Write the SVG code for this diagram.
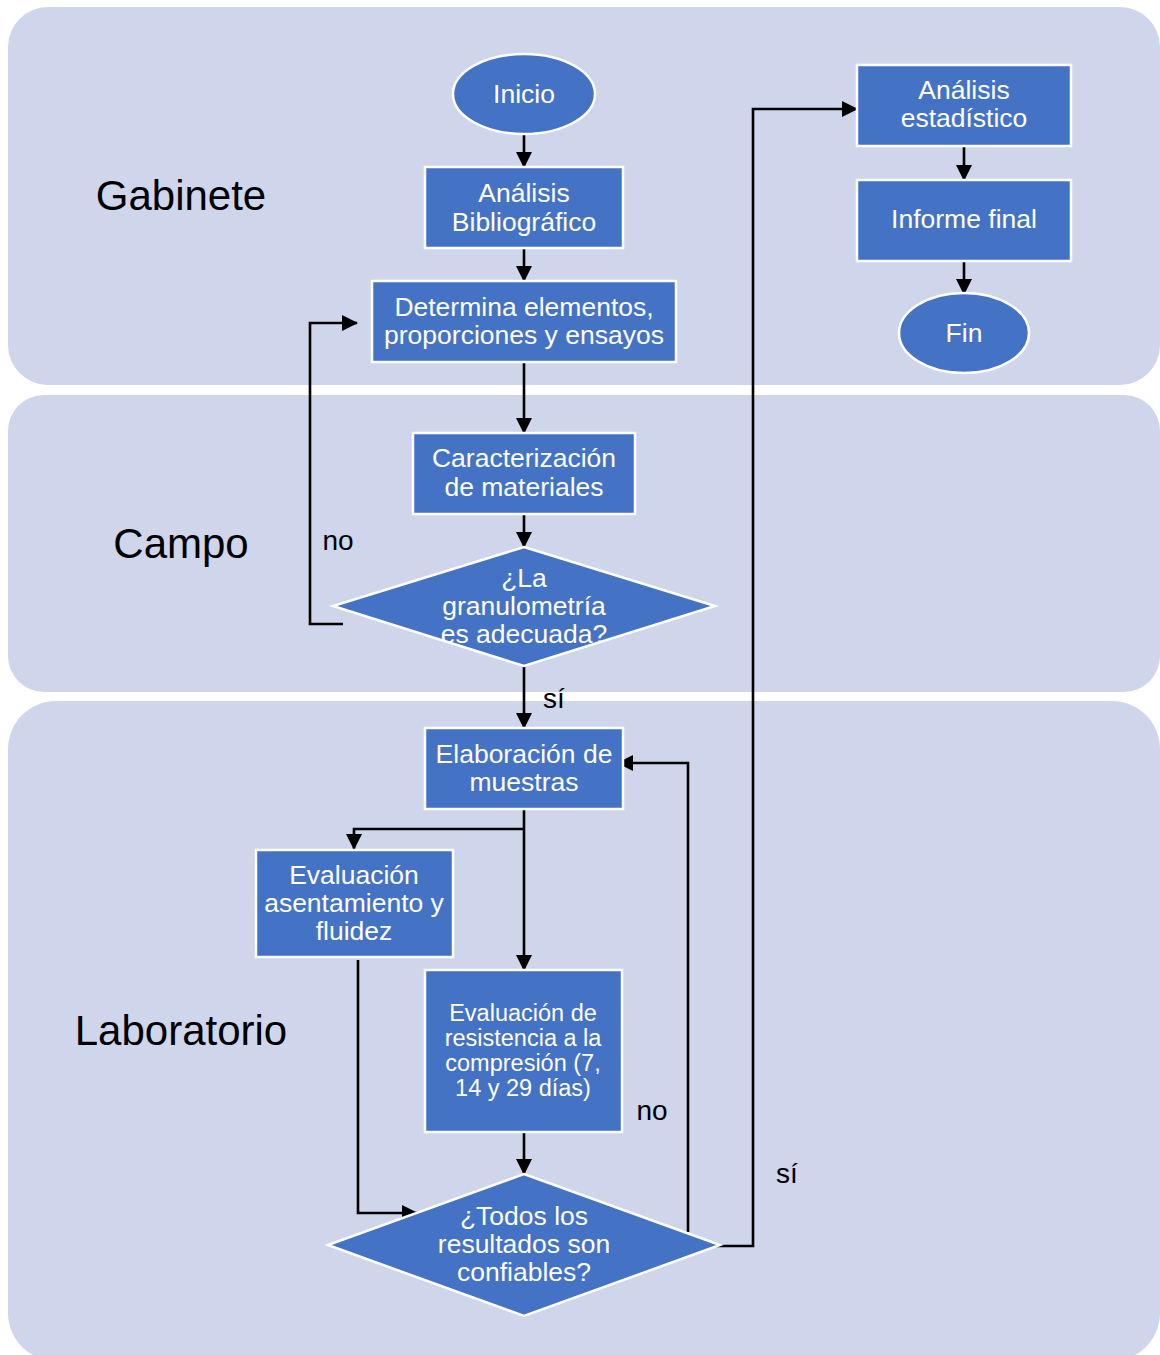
<svg xmlns="http://www.w3.org/2000/svg" width="1160" height="1355" viewBox="0 0 1160 1355">
<style>
.panel{fill:#CFD5EA;}
.lane{font-family:"Liberation Sans",Arial,sans-serif;font-size:42px;fill:#000;text-anchor:middle;dominant-baseline:central;}
.box{fill:#4472C4;stroke:#FFFFFF;stroke-width:2.5;}
.t{font-family:"Liberation Sans",Arial,sans-serif;font-size:26.5px;fill:#FFFFFF;text-anchor:middle;dominant-baseline:central;}
.ts{font-size:23.5px;}
.lbl{font-family:"Liberation Sans",Arial,sans-serif;font-size:28px;fill:#000;text-anchor:middle;dominant-baseline:central;}
.c{fill:none;stroke:#000;stroke-width:2.6;marker-end:url(#ah);}
.cn{fill:none;stroke:#000;stroke-width:2.6;}
</style>
<defs>
<marker id="ah" markerUnits="userSpaceOnUse" markerWidth="16" markerHeight="16" viewBox="0 0 16 16" refX="15" refY="8" orient="auto">
<path d="M0,0 L16,8 L0,16 z" fill="#000"/>
</marker>
</defs>
<rect width="1160" height="1355" fill="#FFFFFF"/>
<g id="lanes">
<rect class="panel" x="8" y="7" width="1152" height="378" rx="40" ry="40"/>
<rect class="panel" x="8" y="395" width="1152" height="297" rx="36" ry="36"/>
<rect class="panel" x="8" y="701" width="1152" height="660" rx="48" ry="48"/>
<text class="lane" x="181" y="195">Gabinete</text>
<text class="lane" x="181" y="543">Campo</text>
<text class="lane" x="181" y="1030">Laboratorio</text>
</g>
<g id="connectors">
<path class="c" d="M524,135 V167"/>
<path class="c" d="M524,249 V281"/>
<path class="c" d="M524,363 V433"/>
<path class="c" d="M524,515 V547"/>
<path class="c" d="M524,666 V728"/>
<path class="c" d="M343,624 H310 V323 H357"/>
<path class="cn" d="M524,810 V829"/>
<path class="c" d="M524,829 H354 V849"/>
<path class="c" d="M524,829 V970"/>
<path class="c" d="M358,960 V1213 H417"/>
<path class="c" d="M524,1133 V1174"/>
<path class="c" d="M688,1232 V763 H618"/>
<path class="c" d="M716,1246 H753 V109 H857"/>
<path class="c" d="M964,147 V180"/>
<path class="c" d="M964,262 V294"/>
<text class="lbl" x="338" y="540">no</text>
<text class="lbl" x="554" y="698">sí</text>
<text class="lbl" x="652" y="1110">no</text>
<text class="lbl" x="787" y="1173">sí</text>
</g>
<g id="inicio">
<ellipse class="box" cx="524" cy="94" rx="71" ry="40"/>
<text class="t" x="524" y="94">Inicio</text>
</g>
<g id="analisis-bibliografico">
<rect class="box" x="425" y="167" width="198" height="81"/>
<text class="t" x="524" y="193">Análisis</text>
<text class="t" x="524" y="222">Bibliográfico</text>
</g>
<g id="determina">
<rect class="box" x="372" y="281" width="304" height="81"/>
<text class="t" x="524" y="307">Determina elementos,</text>
<text class="t" x="524" y="335">proporciones y ensayos</text>
</g>
<g id="caracterizacion">
<rect class="box" x="413" y="433" width="222" height="81"/>
<text class="t" x="524" y="458">Caracterización</text>
<text class="t" x="524" y="487">de materiales</text>
</g>
<g id="granulometria">
<polygon class="box" points="524,547 715,606 524,666 333,606"/>
<text class="t" x="524" y="578">¿La</text>
<text class="t" x="524" y="606">granulometría</text>
<text class="t" x="524" y="634">es adecuada?</text>
</g>
<g id="elaboracion">
<rect class="box" x="425" y="728" width="198" height="81"/>
<text class="t" x="524" y="754">Elaboración de</text>
<text class="t" x="524" y="782">muestras</text>
</g>
<g id="asentamiento">
<rect class="box" x="256" y="850" width="197" height="107"/>
<text class="t" x="354" y="875">Evaluación</text>
<text class="t" x="354" y="903">asentamiento y</text>
<text class="t" x="354" y="931">fluidez</text>
</g>
<g id="resistencia">
<rect class="box" x="425" y="970" width="197" height="162"/>
<text class="t ts" x="523" y="1013">Evaluación de</text>
<text class="t ts" x="523" y="1038">resistencia a la</text>
<text class="t ts" x="523" y="1063">compresión (7,</text>
<text class="t ts" x="523" y="1088">14 y 29 días)</text>
</g>
<g id="confiables">
<polygon class="box" points="524,1174 720,1245 524,1316 328,1245"/>
<text class="t" x="524" y="1216">¿Todos los</text>
<text class="t" x="524" y="1244">resultados son</text>
<text class="t" x="524" y="1272">confiables?</text>
</g>
<g id="analisis-estadistico">
<rect class="box" x="857" y="65" width="214" height="81"/>
<text class="t" x="964" y="90">Análisis</text>
<text class="t" x="964" y="118">estadístico</text>
</g>
<g id="informe">
<rect class="box" x="857" y="180" width="214" height="81"/>
<text class="t" x="964" y="219">Informe final</text>
</g>
<g id="fin">
<ellipse class="box" cx="964" cy="333" rx="65" ry="40"/>
<text class="t" x="964" y="333">Fin</text>
</g>
</svg>
